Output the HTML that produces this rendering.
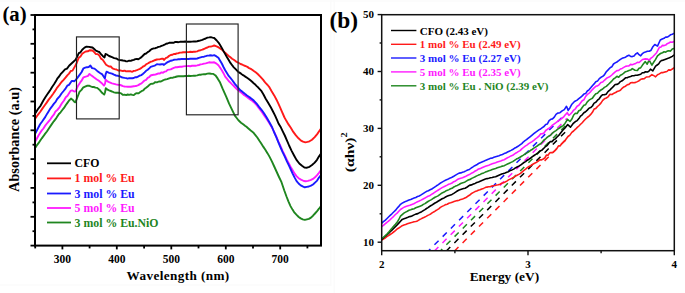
<!DOCTYPE html>
<html><head><meta charset="utf-8"><style>
html,body{margin:0;padding:0;background:#fff;}
body{width:685px;height:293px;overflow:hidden;}
svg{display:block;}
.t{font-family:"Liberation Serif",serif;font-weight:bold;}
</style></head><body>
<svg width="685" height="293" viewBox="0 0 685 293">
<rect x="0" y="0" width="685" height="1.8" fill="#fcfcfc"/>
<rect x="330.2" y="0" width="1.2" height="286" fill="#fbfbfb"/>
<rect x="0" y="284.4" width="331" height="1.2" fill="#fbfbfb"/>
<rect x="333.6" y="0" width="1.2" height="293" fill="#fbfbfb"/>
<clipPath id="ca"><rect x="35" y="15" width="286" height="230.6"/></clipPath>
<clipPath id="cb"><rect x="381.7" y="14.7" width="292.6" height="236"/></clipPath>
<g clip-path="url(#ca)">
<polyline points="35.5,147.5 37.0,145.1 38.5,143.2 40.1,140.7 41.8,138.3 43.4,136.2 45.0,133.9 46.9,131.5 48.7,128.7 51.3,124.9 53.8,121.3 56.3,118.1 58.9,114.0 60.6,112.3 62.3,110.0 64.0,107.9 65.7,105.2 67.4,102.9 69.1,100.5 71.0,98.6 72.5,99.7 74.0,101.4 75.1,102.3 76.2,100.4 77.7,96.5 79.5,91.9 81.5,89.9 83.0,87.7 84.5,86.9 86.9,85.8 89.5,85.8 92.1,87.0 93.8,87.0 95.5,87.6 97.2,87.9 100.0,90.3 102.3,93.1 104.2,94.6 105.0,92.5 105.8,88.2 107.5,89.7 109.1,90.4 112.0,91.5 114.0,92.4 116.0,92.8 118.0,92.7 120.0,93.0 121.5,93.7 123.0,94.9 124.6,94.7 126.1,95.1 127.7,94.5 129.2,94.9 130.8,94.4 132.3,94.9 133.8,95.1 135.4,93.7 136.9,93.2 138.4,93.4 139.9,92.3 141.5,91.2 143.1,90.5 144.6,88.8 146.1,87.8 147.7,86.5 149.2,85.1 150.7,83.9 152.2,83.8 153.8,83.3 155.3,82.1 156.9,82.4 158.9,81.5 161.0,81.5 163.0,80.4 165.0,79.5 167.1,79.1 169.2,78.3 170.7,77.8 172.2,77.9 173.8,77.3 175.3,77.0 176.9,76.5 178.4,76.2 180.0,76.3 181.7,76.1 183.5,76.2 185.2,76.0 186.9,76.1 188.6,75.8 190.3,76.0 192.1,75.9 193.8,75.8 195.5,75.7 197.2,75.3 198.9,74.8 200.6,74.7 202.3,74.4 204.0,74.3 205.7,74.2 207.4,73.6 209.1,73.5 211.2,73.8 213.4,73.9 215.5,75.4 217.6,78.4 220.1,82.6 222.5,88.4 224.4,92.6 226.4,97.1 229.1,103.7 231.5,108.6 233.2,112.1 235.0,115.9 236.7,118.0 238.4,120.3 241.0,122.7 243.5,124.5 245.0,125.7 246.5,126.8 248.1,128.2 249.6,129.5 251.4,131.1 253.2,132.4 255.2,134.9 257.3,137.5 259.4,140.8 261.4,143.7 263.4,146.9 265.5,150.0 267.6,153.4 269.6,156.9 272.0,161.6 274.0,166.0 276.5,171.5 279.0,177.0 281.5,182.2 284.3,190.5 286.5,196.5 288.4,201.3 290.5,206.1 292.5,209.6 294.5,212.7 296.6,214.9 298.7,217.0 300.7,218.4 302.7,219.4 304.8,219.9 306.9,219.4 308.9,218.9 311.0,217.6 313.0,215.7 315.0,213.5 317.1,211.1 319.0,208.7 321.0,206.0" fill="none" stroke="#1f861f" stroke-width="1.9" stroke-linejoin="round" stroke-linecap="round" />
<polyline points="35.5,141.0 37.0,138.3 38.5,135.5 40.1,132.9 41.8,130.4 43.4,128.5 45.0,125.9 46.9,123.5 48.7,121.3 50.4,119.3 52.0,116.9 53.8,114.7 55.5,111.4 57.6,109.7 59.7,107.1 61.9,103.3 64.0,100.5 65.8,97.2 67.5,95.7 69.2,93.1 70.8,90.6 72.5,90.5 74.2,91.5 75.5,91.3 76.8,88.4 78.4,85.2 80.2,82.4 81.8,80.3 83.5,77.3 85.0,76.8 86.5,76.4 88.0,75.9 89.5,73.9 91.5,75.6 93.8,77.3 96.5,79.2 98.9,80.8 101.5,82.9 104.0,85.6 105.0,83.8 105.7,79.6 107.5,81.4 109.1,82.2 112.0,83.3 114.0,83.8 116.0,84.4 118.0,84.8 120.0,84.9 121.5,85.5 123.0,86.1 124.6,86.5 126.1,86.6 127.7,86.8 129.2,86.7 130.8,86.8 132.3,86.5 133.8,86.2 135.4,86.0 136.9,85.7 138.4,85.1 139.9,84.1 141.5,83.4 143.1,81.8 144.6,80.5 146.1,79.8 147.7,77.9 149.2,77.2 150.7,75.5 152.2,75.0 153.8,74.8 155.3,74.6 156.9,74.0 158.4,73.4 159.9,73.5 161.5,72.4 163.0,72.7 164.6,71.6 166.1,71.4 167.6,69.9 169.2,69.6 170.7,69.4 172.2,68.6 173.8,67.9 175.3,67.3 176.9,67.3 178.4,67.0 180.0,66.7 181.7,66.7 183.5,66.4 185.2,66.1 186.9,66.1 188.6,66.0 190.3,66.2 192.1,65.8 193.8,65.8 195.5,65.7 197.2,65.4 198.9,65.0 200.6,64.4 202.3,64.1 204.0,63.7 205.7,63.3 207.4,62.8 209.1,62.3 210.8,62.5 212.5,62.5 214.2,62.3 216.5,63.6 218.4,65.3 220.0,67.5 221.8,70.3 223.5,73.2 225.2,76.6 226.9,78.7 228.7,81.0 230.4,82.7 232.1,84.4 233.8,86.0 235.5,87.8 237.0,89.2 238.5,90.5 240.1,91.8 241.8,93.1 243.5,94.6 245.2,95.7 247.0,97.1 248.8,98.5 250.5,99.6 252.2,100.8 253.8,102.2 256.4,104.8 258.9,108.2 261.5,111.5 264.0,115.2 266.5,118.8 269.1,122.7 272.0,127.6 274.0,131.7 276.3,136.7 278.4,141.6 280.5,146.2 282.6,150.8 284.8,155.3 286.9,159.9 289.1,163.9 291.0,167.6 292.8,170.5 294.5,173.4 296.5,176.1 298.6,178.2 301.0,179.6 303.8,181.0 305.8,181.2 307.9,180.9 310.5,180.1 313.0,178.9 315.0,177.3 317.1,175.1 319.0,172.8 321.0,170.0" fill="none" stroke="#ff1aff" stroke-width="1.9" stroke-linejoin="round" stroke-linecap="round" />
<polyline points="35.5,133.0 38.0,128.3 40.1,124.3 41.8,122.0 43.5,119.5 45.2,117.1 47.0,113.9 48.7,111.2 50.5,108.3 52.2,106.1 54.0,103.6 55.6,101.9 57.2,99.0 59.4,96.7 61.5,93.5 63.6,91.0 65.7,88.3 67.3,85.7 69.0,84.9 71.7,81.0 73.0,80.9 74.2,81.3 75.5,80.1 77.0,78.4 79.4,75.1 81.5,72.2 83.5,68.3 85.2,67.7 87.0,67.2 88.7,67.0 90.4,65.6 92.1,68.1 94.5,68.6 97.2,70.9 100.0,73.0 102.3,74.4 104.9,78.4 105.6,74.4 106.6,71.7 109.1,72.8 112.0,73.6 114.0,74.7 116.0,75.5 118.0,75.8 120.0,76.4 121.5,77.3 123.0,77.6 124.6,77.9 126.1,78.1 127.7,78.6 129.2,78.2 130.8,78.2 132.3,78.2 133.8,78.0 135.4,77.2 136.9,77.2 138.4,76.4 139.9,75.5 141.5,75.1 143.1,73.8 144.6,72.4 146.1,70.8 147.7,69.8 149.2,68.4 150.7,66.8 152.2,66.3 153.8,65.9 155.3,65.3 156.9,64.3 158.4,64.4 159.9,64.5 161.5,64.2 163.0,64.1 164.0,64.9 166.0,63.2 167.6,62.1 169.2,61.5 170.7,60.7 172.2,60.5 173.8,59.8 175.3,59.6 176.9,59.6 178.4,59.1 180.0,59.2 181.7,58.9 183.5,59.0 185.2,58.9 186.9,59.0 188.6,59.0 190.3,58.8 192.1,58.8 193.8,58.7 195.5,58.8 197.2,58.5 198.9,57.9 200.6,57.4 202.3,56.9 204.0,56.7 205.7,56.2 207.4,55.6 209.1,55.5 210.8,55.3 212.5,55.6 214.2,55.2 216.5,56.4 218.4,57.8 220.0,60.4 221.8,63.5 223.5,67.0 225.2,70.2 226.9,72.9 228.7,75.9 230.4,77.9 232.1,80.0 233.8,82.4 235.5,84.7 237.2,86.7 238.9,88.6 240.1,90.1 241.8,91.3 243.5,92.7 245.2,94.1 247.0,95.5 248.8,96.7 250.5,97.9 252.2,99.3 253.8,100.6 256.4,103.3 258.9,106.6 261.5,109.8 264.0,113.3 266.5,117.2 269.1,121.8 272.0,127.0 274.0,132.0 276.3,137.1 278.4,142.3 280.5,147.3 282.6,152.1 284.8,156.7 286.9,161.4 289.1,165.9 290.8,169.5 292.5,173.3 294.5,177.4 296.6,181.1 298.6,183.5 300.7,185.4 302.7,186.4 304.8,187.3 306.8,186.9 308.9,186.5 311.0,185.6 313.0,184.5 315.0,182.6 317.1,180.6 319.0,177.6 321.0,175.0" fill="none" stroke="#1a1aff" stroke-width="1.9" stroke-linejoin="round" stroke-linecap="round" />
<polyline points="35.5,118.3 37.0,116.0 38.6,113.9 40.1,112.0 42.2,108.9 44.4,105.8 46.5,102.9 48.7,99.6 50.9,96.9 53.0,94.0 55.1,90.9 57.2,87.6 59.4,84.9 61.5,82.0 63.6,79.8 65.7,77.4 67.3,75.3 69.0,73.6 70.8,71.0 72.5,70.6 74.5,67.1 76.5,63.5 78.8,57.7 80.5,56.4 82.2,53.8 84.0,52.5 85.7,51.5 87.8,51.3 89.9,50.2 92.5,50.5 94.2,52.2 95.9,54.1 97.6,54.1 99.3,55.5 101.0,58.6 102.7,59.7 104.4,62.2 106.1,64.7 109.0,66.5 110.8,66.5 112.5,68.3 114.5,69.1 116.4,69.5 118.2,70.5 120.0,70.3 121.5,70.7 123.0,71.0 124.6,70.6 126.1,71.4 127.7,71.1 129.2,71.3 130.8,71.3 132.3,71.8 133.8,70.9 135.4,70.7 136.9,70.2 138.4,69.5 139.9,68.8 141.5,67.9 143.1,66.5 144.6,65.9 146.1,64.3 147.7,63.5 149.2,62.6 150.7,61.7 152.2,61.4 153.8,60.6 155.3,60.0 156.9,59.5 158.4,59.4 159.9,59.2 161.5,58.8 163.0,58.7 164.0,59.9 166.0,57.9 167.6,57.3 169.2,55.8 170.7,55.0 172.2,54.8 173.8,54.0 175.3,54.0 176.9,53.4 178.4,53.2 180.0,52.6 181.7,52.5 183.5,52.3 185.2,52.3 186.9,52.1 188.6,52.1 190.3,51.8 192.1,52.0 193.8,51.7 195.5,51.7 197.2,51.3 198.9,50.5 200.6,50.2 202.3,49.7 204.0,49.0 205.7,48.1 207.4,47.5 209.1,46.6 210.8,46.5 212.5,46.1 214.2,45.5 215.9,46.2 217.7,46.9 219.4,48.0 221.1,49.1 223.5,51.1 225.2,52.8 227.0,54.4 228.7,55.9 230.4,57.3 232.1,58.8 233.8,59.8 235.5,61.1 237.2,62.2 238.9,63.0 240.6,64.0 242.3,64.7 244.0,65.5 245.7,66.2 247.4,66.9 249.1,68.1 250.8,68.9 252.5,70.0 254.2,71.3 256.0,72.6 257.7,74.0 260.5,76.8 263.0,79.6 264.5,81.6 266.0,83.4 267.6,85.0 269.1,86.8 271.5,91.0 274.2,95.4 276.5,99.7 278.5,103.9 280.3,107.8 281.9,111.6 284.5,117.5 286.5,121.1 288.5,124.4 290.8,127.8 293.3,131.9 295.9,135.4 298.5,138.3 301.0,140.6 303.0,141.7 305.3,142.4 307.5,141.9 309.5,141.3 312.0,139.7 314.7,137.1 317.2,134.1 319.8,130.3 321.0,128.5" fill="none" stroke="#ff1a1a" stroke-width="1.9" stroke-linejoin="round" stroke-linecap="round" />
<polyline points="35.5,113.0 38.0,109.0 40.5,105.8 42.0,103.0 43.5,100.3 45.5,97.0 47.5,94.0 49.0,91.9 50.6,89.5 52.1,87.0 54.0,84.3 56.0,81.1 57.5,78.3 59.1,76.5 60.6,74.2 62.8,71.8 65.0,69.3 67.0,68.6 69.1,65.8 71.2,63.8 73.4,61.8 75.4,59.9 77.1,56.9 78.8,53.2 80.5,52.3 82.2,49.7 84.5,47.6 86.5,46.6 89.1,46.9 90.8,47.2 92.5,47.5 94.2,49.0 95.9,50.6 97.6,51.4 99.3,52.0 101.0,54.1 102.7,55.9 104.5,57.4 105.5,54.0 106.5,54.3 109.1,56.0 112.0,57.2 114.2,58.1 116.4,58.5 118.2,59.6 120.0,60.1 121.5,60.2 123.0,60.5 124.6,60.7 126.1,61.4 127.7,61.2 129.2,60.7 130.8,60.9 132.3,60.2 133.8,59.9 135.4,59.1 136.9,59.0 138.4,59.2 139.9,58.2 141.5,57.1 143.1,55.5 144.6,54.0 146.1,53.5 147.7,52.1 149.2,51.2 150.7,49.8 152.2,48.9 153.8,48.4 155.3,48.2 156.9,47.6 158.4,46.9 159.9,46.6 161.5,45.9 163.0,45.4 164.6,44.7 166.1,43.8 167.6,43.5 169.2,42.8 170.7,42.8 172.2,42.7 173.8,42.8 175.3,41.9 176.9,42.0 178.4,42.2 180.0,41.8 181.7,41.6 183.5,41.7 185.2,41.5 186.9,41.7 188.6,41.7 190.3,41.7 192.1,41.6 193.8,41.4 195.5,41.5 197.2,41.2 199.0,40.8 200.7,40.3 202.3,39.8 204.0,39.1 205.7,38.5 207.4,37.6 209.1,37.4 210.8,37.1 212.5,37.6 214.2,38.0 216.7,40.5 218.5,42.6 220.1,45.1 221.8,47.9 223.5,51.1 225.2,54.1 227.0,57.2 228.7,60.1 230.4,62.9 232.1,65.2 233.8,67.3 235.9,69.4 238.0,71.7 239.5,72.6 241.0,73.6 242.5,74.9 244.0,75.7 245.7,76.9 247.4,78.0 249.1,79.2 250.7,80.5 252.4,82.0 254.0,83.6 255.5,84.8 257.0,86.4 258.5,87.8 261.1,90.6 263.5,94.5 265.7,98.7 268.0,102.5 270.8,107.3 273.0,111.5 275.1,115.6 277.1,120.1 278.5,123.5 280.5,126.7 282.5,130.9 284.8,135.5 287.0,140.6 289.1,145.5 291.5,150.6 294.2,155.7 296.5,159.9 299.3,163.5 302.0,165.8 304.4,167.5 307.0,167.7 309.5,166.8 312.0,165.0 314.7,162.6 317.0,159.8 318.9,156.6 321.0,153.5" fill="none" stroke="#000000" stroke-width="1.9" stroke-linejoin="round" stroke-linecap="round" />
</g>
<rect x="76.5" y="36.9" width="42.7" height="82.0" fill="none" stroke="#222" stroke-width="1.15"/>
<rect x="186.4" y="24.0" width="51.7" height="90.8" fill="none" stroke="#222" stroke-width="1.15"/>
<rect x="35" y="15" width="286" height="230.6" fill="none" stroke="#000" stroke-width="2"/>
<line x1="30.5" y1="15.0" x2="35" y2="15.0" stroke="#000" stroke-width="1.8"/>
<line x1="32.5" y1="29.4" x2="35" y2="29.4" stroke="#000" stroke-width="1.8"/>
<line x1="30.5" y1="43.8" x2="35" y2="43.8" stroke="#000" stroke-width="1.8"/>
<line x1="32.5" y1="58.2" x2="35" y2="58.2" stroke="#000" stroke-width="1.8"/>
<line x1="30.5" y1="72.7" x2="35" y2="72.7" stroke="#000" stroke-width="1.8"/>
<line x1="32.5" y1="87.1" x2="35" y2="87.1" stroke="#000" stroke-width="1.8"/>
<line x1="30.5" y1="101.5" x2="35" y2="101.5" stroke="#000" stroke-width="1.8"/>
<line x1="32.5" y1="115.9" x2="35" y2="115.9" stroke="#000" stroke-width="1.8"/>
<line x1="30.5" y1="130.3" x2="35" y2="130.3" stroke="#000" stroke-width="1.8"/>
<line x1="32.5" y1="144.7" x2="35" y2="144.7" stroke="#000" stroke-width="1.8"/>
<line x1="30.5" y1="159.1" x2="35" y2="159.1" stroke="#000" stroke-width="1.8"/>
<line x1="32.5" y1="173.5" x2="35" y2="173.5" stroke="#000" stroke-width="1.8"/>
<line x1="30.5" y1="187.9" x2="35" y2="187.9" stroke="#000" stroke-width="1.8"/>
<line x1="32.5" y1="202.4" x2="35" y2="202.4" stroke="#000" stroke-width="1.8"/>
<line x1="30.5" y1="216.8" x2="35" y2="216.8" stroke="#000" stroke-width="1.8"/>
<line x1="32.5" y1="231.2" x2="35" y2="231.2" stroke="#000" stroke-width="1.8"/>
<line x1="30.5" y1="245.6" x2="35" y2="245.6" stroke="#000" stroke-width="1.8"/>
<line x1="35.2" y1="245.6" x2="35.2" y2="248.4" stroke="#000" stroke-width="1.8"/>
<line x1="62.4" y1="245.6" x2="62.4" y2="249.4" stroke="#000" stroke-width="1.8"/>
<text x="62.4" y="262.8" class="t" font-size="11.5" text-anchor="middle">300</text>
<line x1="89.6" y1="245.6" x2="89.6" y2="248.4" stroke="#000" stroke-width="1.8"/>
<line x1="116.8" y1="245.6" x2="116.8" y2="249.4" stroke="#000" stroke-width="1.8"/>
<text x="116.8" y="262.8" class="t" font-size="11.5" text-anchor="middle">400</text>
<line x1="144.1" y1="245.6" x2="144.1" y2="248.4" stroke="#000" stroke-width="1.8"/>
<line x1="171.3" y1="245.6" x2="171.3" y2="249.4" stroke="#000" stroke-width="1.8"/>
<text x="171.3" y="262.8" class="t" font-size="11.5" text-anchor="middle">500</text>
<line x1="198.5" y1="245.6" x2="198.5" y2="248.4" stroke="#000" stroke-width="1.8"/>
<line x1="225.8" y1="245.6" x2="225.8" y2="249.4" stroke="#000" stroke-width="1.8"/>
<text x="225.8" y="262.8" class="t" font-size="11.5" text-anchor="middle">600</text>
<line x1="253.0" y1="245.6" x2="253.0" y2="248.4" stroke="#000" stroke-width="1.8"/>
<line x1="280.2" y1="245.6" x2="280.2" y2="249.4" stroke="#000" stroke-width="1.8"/>
<text x="280.2" y="262.8" class="t" font-size="11.5" text-anchor="middle">700</text>
<line x1="307.4" y1="245.6" x2="307.4" y2="248.4" stroke="#000" stroke-width="1.8"/>
<text x="178.1" y="279.6" class="t" font-size="13.2" text-anchor="middle" letter-spacing="0.4">Wavelength (nm)</text>
<text x="19.3" y="139.5" class="t" font-size="14.3" text-anchor="middle" transform="rotate(-90 19.3 139.5)">Absorbance (a.u)</text>
<text x="2.4" y="20.8" class="t" font-size="20.8">(a)</text>
<line x1="47" y1="163.3" x2="71" y2="163.3" stroke="#000000" stroke-width="1.8"/>
<text x="74.6" y="167.3" class="t" font-size="11.8" fill="#000000">CFO</text>
<line x1="47" y1="178.4" x2="71" y2="178.4" stroke="#ff1a1a" stroke-width="1.8"/>
<text x="74.6" y="182.4" class="t" font-size="11.8" fill="#ff1a1a">1 mol % Eu</text>
<line x1="47" y1="193.5" x2="71" y2="193.5" stroke="#1a1aff" stroke-width="1.8"/>
<text x="74.6" y="197.5" class="t" font-size="11.8" fill="#1a1aff">3 mol % Eu</text>
<line x1="47" y1="208" x2="71" y2="208" stroke="#ff1aff" stroke-width="1.8"/>
<text x="74.6" y="212" class="t" font-size="11.8" fill="#ff1aff">5 mol % Eu</text>
<line x1="47" y1="222.5" x2="71" y2="222.5" stroke="#1f861f" stroke-width="1.8"/>
<text x="74.6" y="226.5" class="t" font-size="11.8" fill="#1f861f">3 mol % Eu.NiO</text>
<g clip-path="url(#cb)">
<line x1="428.6" y1="250.7" x2="565" y2="114.3" stroke="#1a1aff" stroke-width="1.5" stroke-dasharray="5.8 5.8" stroke-dashoffset="3.3"/>
<line x1="434.7" y1="250.7" x2="567" y2="118.4" stroke="#ff1aff" stroke-width="1.5" stroke-dasharray="5.8 5.8" stroke-dashoffset="0.6"/>
<line x1="440.5" y1="250.7" x2="566" y2="125.2" stroke="#1f861f" stroke-width="1.5" stroke-dasharray="5.8 5.8" stroke-dashoffset="3.3"/>
<line x1="446.6" y1="250.7" x2="566" y2="131.3" stroke="#000000" stroke-width="1.5" stroke-dasharray="5.8 5.8" stroke-dashoffset="0.6"/>
<line x1="454.8" y1="250.7" x2="566" y2="139.5" stroke="#ff1a1a" stroke-width="1.5" stroke-dasharray="5.8 5.8" stroke-dashoffset="0.6"/>
<polyline points="381.7,240.2 383.4,239.0 385.1,238.0 386.8,236.7 388.5,235.6 390.2,234.5 391.9,233.3 393.6,232.0 395.4,230.6 397.1,229.0 398.8,228.0 400.5,226.9 402.2,225.7 403.9,225.1 405.6,224.6 407.3,223.7 409.0,223.2 410.7,222.7 412.4,222.3 414.1,221.8 415.8,221.5 417.5,220.9 419.2,219.8 421.0,218.9 422.7,218.0 424.4,217.3 426.1,216.4 427.8,215.4 429.5,214.6 431.0,213.7 432.5,212.6 434.0,211.8 435.5,210.8 437.0,209.9 438.7,208.8 440.4,207.4 442.1,206.4 443.8,205.6 445.5,204.6 447.2,204.2 448.9,203.2 450.6,202.8 452.3,202.2 454.0,201.6 455.7,201.1 457.4,200.6 459.1,200.2 460.8,199.4 462.6,198.9 464.3,198.3 466.0,197.5 467.7,196.3 469.4,195.3 471.1,193.8 473.1,192.6 475.0,191.6 476.7,191.0 478.3,190.2 480.0,189.7 481.8,188.9 483.5,188.4 485.2,187.6 487.0,187.1 488.6,186.7 490.2,186.7 491.8,186.1 493.4,185.8 495.0,185.5 496.7,185.0 498.3,184.7 500.0,184.2 501.7,183.3 503.4,182.7 505.1,182.0 506.8,181.1 508.5,179.9 510.2,179.1 512.0,178.3 513.7,177.4 515.4,176.1 517.1,175.2 518.8,174.4 520.5,173.4 522.2,171.8 523.9,170.4 525.6,169.1 527.3,167.7 529.0,166.5 530.7,165.7 532.4,164.5 534.1,163.5 536.1,162.5 538.0,161.4 540.0,159.7 541.6,159.9 543.2,159.0 544.8,158.0 546.4,155.1 548.0,155.2 549.5,153.1 551.0,152.5 552.5,152.6 554.0,151.4 555.5,150.1 557.0,148.2 558.5,145.9 560.0,145.9 561.7,143.8 563.3,142.2 565.0,140.7 566.5,138.4 568.0,136.5 569.9,135.1 571.8,132.4 573.6,131.0 575.5,129.2 577.3,127.4 578.9,126.0 580.6,124.3 582.2,122.7 583.9,120.8 585.6,119.0 587.3,117.5 589.0,116.2 590.7,114.4 592.4,112.3 594.1,109.1 595.8,108.4 597.5,106.5 599.2,105.0 600.9,103.1 602.7,100.4 604.4,98.8 606.3,98.0 608.1,96.8 610.0,94.2 612.0,94.5 614.0,93.2 615.6,92.6 617.1,91.5 618.7,90.9 620.4,90.2 622.1,88.3 623.8,86.9 625.5,86.2 627.2,84.8 628.9,84.4 630.6,82.8 632.3,82.5 634.0,82.7 635.7,82.4 637.4,81.6 639.1,80.7 640.8,79.3 642.6,78.9 644.3,78.7 646.3,77.0 649.1,76.8 651.9,74.6 653.8,75.6 655.6,76.8 657.5,74.8 659.4,73.9 661.3,72.6 663.1,72.6 665.0,71.9 666.9,71.5 668.7,69.9 670.6,70.1 672.3,69.0 674.0,67.8" fill="none" stroke="#ff1a1a" stroke-width="1.6" stroke-linejoin="round" stroke-linecap="round" />
<polyline points="381.7,239.4 383.4,238.0 385.1,236.3 386.8,234.9 388.5,233.4 390.2,231.7 391.9,230.1 393.6,228.4 395.4,226.6 397.1,224.9 398.8,223.1 400.5,221.3 402.2,219.4 403.9,218.8 405.6,218.2 407.3,217.6 409.0,216.8 410.7,216.4 412.4,215.7 414.1,214.9 415.8,214.1 417.9,213.6 420.0,212.4 421.7,211.7 423.3,210.6 425.0,209.6 426.5,208.5 428.0,207.6 429.5,206.5 431.5,205.3 433.5,204.0 435.0,203.0 436.5,202.2 438.0,201.3 440.1,200.0 442.1,198.8 444.1,197.9 446.0,196.7 447.5,196.0 449.0,195.5 450.5,195.0 452.0,194.4 453.8,193.4 455.6,192.2 457.3,191.0 459.1,190.0 460.6,189.5 462.1,189.0 463.6,188.6 465.1,188.2 467.2,187.0 469.4,185.4 471.4,184.9 473.4,184.0 475.1,183.4 476.8,182.5 478.5,181.9 480.2,181.2 481.9,180.5 483.7,179.8 485.4,179.1 487.1,178.6 488.8,178.2 490.5,177.7 492.2,177.5 493.9,177.0 495.6,176.8 497.8,175.7 500.0,174.7 501.7,174.0 503.4,173.5 505.1,172.9 506.8,172.2 508.5,171.7 510.2,170.6 512.0,169.9 513.7,169.1 515.4,167.9 517.1,167.0 518.8,166.1 520.5,165.1 522.2,163.8 523.9,162.5 525.6,161.6 527.3,160.2 529.0,159.2 530.7,158.0 532.4,156.7 534.1,155.5 536.1,154.2 538.0,152.9 540.0,150.9 541.7,150.3 543.4,148.7 545.2,146.8 546.9,145.7 548.6,143.6 550.3,141.6 552.0,141.6 553.6,139.9 555.3,138.9 557.0,137.0 559.0,135.1 561.0,132.5 563.0,129.9 565.0,128.0 567.7,124.6 570.5,127.1 573.0,123.7 575.1,121.8 577.2,120.6 578.9,118.6 580.5,116.1 582.2,114.8 583.9,112.8 585.6,111.8 587.3,110.1 589.0,108.2 590.7,107.6 592.4,106.0 594.1,103.1 595.8,102.3 597.5,100.2 599.2,98.8 601.0,96.2 602.7,94.7 604.4,94.6 606.1,94.2 608.0,91.6 610.0,89.8 611.7,88.2 613.5,86.4 615.2,84.5 616.9,84.4 618.7,83.6 620.4,81.6 622.1,80.8 623.8,79.4 625.5,77.8 627.2,77.7 628.9,76.9 630.6,76.4 632.2,75.7 633.9,75.7 635.5,75.3 637.2,75.2 639.0,74.7 640.7,74.3 642.3,72.7 643.9,72.7 645.5,71.7 647.5,72.0 649.0,71.1 650.5,69.2 652.8,70.9 655.6,66.2 657.2,65.0 658.7,63.9 660.3,61.4 661.9,60.4 663.4,60.1 665.0,59.4 666.9,58.7 668.8,58.1 670.5,57.3 672.3,56.4 674.0,55.0" fill="none" stroke="#000000" stroke-width="1.6" stroke-linejoin="round" stroke-linecap="round" />
<polyline points="381.7,238.5 383.4,237.3 385.1,235.9 386.8,234.2 388.5,232.4 390.2,230.2 391.9,228.3 393.6,226.3 395.4,224.3 397.1,222.3 398.8,219.5 400.5,216.2 402.2,214.6 403.9,213.1 405.6,212.1 407.3,211.2 409.0,210.2 410.7,209.8 412.4,209.1 414.1,208.7 415.8,207.8 417.9,207.0 420.0,206.2 421.7,205.6 423.3,204.4 425.0,203.6 426.5,202.5 428.0,201.5 429.5,200.6 431.5,199.6 433.5,198.2 435.0,197.3 436.5,196.6 438.0,195.9 440.1,194.3 442.1,192.9 444.1,192.1 446.0,190.8 447.5,190.3 449.0,189.6 450.5,188.8 452.0,188.3 453.8,187.0 455.6,186.1 457.3,185.4 459.1,184.5 460.6,183.5 462.1,183.0 463.6,182.5 465.1,181.9 467.2,180.6 469.4,179.6 470.0,179.5 471.7,178.4 473.4,177.6 475.1,176.8 476.8,175.9 478.5,175.1 480.2,174.4 481.9,173.5 483.7,172.9 485.4,172.1 487.1,171.4 488.8,170.7 490.5,170.2 492.2,169.5 493.9,168.9 495.6,168.4 497.3,167.7 499.0,167.2 500.7,166.8 502.4,166.1 504.1,165.8 505.8,164.9 507.5,164.0 509.3,163.2 511.0,162.4 512.7,161.6 514.5,160.4 516.4,159.1 518.2,158.3 520.0,157.2 521.5,156.3 523.0,155.4 524.5,154.3 526.0,153.3 527.5,152.6 529.0,151.6 530.6,150.3 532.1,149.5 533.8,148.2 535.5,147.1 537.2,146.0 538.9,144.7 540.6,143.7 542.3,142.0 544.0,140.0 545.7,138.8 547.4,137.1 549.1,136.0 550.8,135.1 552.5,133.1 554.3,131.7 556.0,130.6 557.7,129.2 559.5,128.0 561.4,126.5 563.2,125.6 565.0,123.4 567.5,119.3 570.0,121.5 571.9,119.0 573.7,115.0 575.4,113.3 577.1,113.5 578.8,110.8 580.5,110.0 582.2,107.5 583.9,105.3 585.6,104.7 587.3,101.9 589.0,100.2 590.7,99.1 592.4,98.3 594.1,95.8 595.8,93.8 597.5,93.3 599.2,91.3 600.9,90.0 602.7,89.0 604.4,87.4 606.3,86.4 608.1,84.7 610.0,82.8 611.7,81.2 613.5,79.0 615.2,77.8 616.9,76.3 618.7,77.3 620.4,75.2 622.1,74.5 623.8,73.1 625.5,71.7 627.2,71.3 628.9,70.6 630.6,70.1 632.3,68.6 635.0,70.2 637.4,70.5 639.0,68.2 640.6,67.9 642.5,65.1 645.3,61.6 647.2,64.2 649.1,60.1 651.9,65.2 653.8,62.0 655.6,59.4 657.5,55.9 659.4,54.3 661.0,53.3 662.5,52.7 664.1,51.7 665.7,52.2 667.2,51.1 668.8,50.8 670.5,51.1 672.3,49.0 674.0,48.5" fill="none" stroke="#1f861f" stroke-width="1.6" stroke-linejoin="round" stroke-linecap="round" />
<polyline points="381.7,226.6 383.4,225.4 385.1,223.8 386.8,222.5 388.5,221.1 390.2,219.6 391.9,218.0 393.7,216.3 395.4,214.5 397.1,213.1 398.8,211.3 400.5,209.5 402.6,208.1 404.7,206.9 406.4,206.3 408.2,205.7 409.9,205.3 411.9,204.4 413.8,203.7 415.8,202.6 417.5,201.8 419.2,201.0 421.0,200.1 422.7,199.2 425.0,198.0 426.5,197.1 428.0,196.2 429.5,195.8 431.5,194.4 433.5,193.2 435.0,192.1 436.5,191.1 438.0,190.2 440.1,188.9 442.1,187.6 443.8,186.8 445.4,186.0 447.1,185.1 448.7,184.2 450.4,183.7 452.0,183.0 453.8,181.7 455.6,180.9 457.3,179.6 459.1,178.8 460.8,178.2 462.5,177.8 464.2,177.0 465.9,176.2 467.7,175.3 469.4,174.6 472.0,172.9 473.6,172.2 475.2,171.0 476.9,170.2 478.5,169.0 480.2,168.6 481.9,167.7 483.7,166.9 485.4,166.3 487.1,165.7 488.8,165.2 490.5,164.4 492.2,163.8 493.9,163.2 495.6,162.8 497.3,162.1 499.0,161.5 500.7,161.0 502.4,160.3 504.1,159.7 505.8,158.7 507.5,157.8 509.3,156.9 511.0,155.9 512.7,155.3 514.6,153.9 516.4,152.8 518.2,151.6 520.1,150.6 521.8,148.9 523.5,147.5 525.2,146.1 526.9,145.1 528.7,143.7 530.4,142.6 532.1,141.6 533.8,140.4 535.5,138.8 537.2,137.7 538.9,136.2 540.6,133.9 542.3,133.7 544.0,133.0 545.7,130.5 547.4,129.3 549.1,128.3 550.8,127.0 552.5,125.1 554.3,123.8 556.0,122.6 557.7,121.3 560.0,119.9 561.7,118.5 563.4,117.2 565.1,115.0 567.2,112.7 568.9,115.4 570.5,114.0 572.1,112.2 573.7,110.1 575.4,108.8 577.1,106.2 578.8,105.3 580.5,103.0 582.2,100.7 583.9,99.8 585.6,96.5 587.3,94.4 589.0,93.3 590.7,91.6 592.4,89.6 594.1,87.9 595.8,86.3 597.5,85.9 599.2,84.6 600.9,82.5 602.7,82.0 604.4,80.3 607.0,77.9 608.5,77.3 610.1,76.5 611.8,75.0 613.5,73.4 615.2,71.8 616.9,70.6 618.7,70.4 620.4,69.0 622.1,68.4 623.8,67.4 625.5,66.4 627.2,66.0 628.9,65.9 630.6,64.4 632.3,64.7 634.0,64.1 635.7,63.4 637.4,62.3 639.1,62.5 640.8,61.0 642.5,59.5 645.3,58.9 647.7,59.1 649.1,60.1 651.0,58.1 652.8,56.8 654.7,54.8 656.6,52.7 659.4,47.4 661.0,47.0 662.5,45.4 664.1,45.6 665.7,45.1 667.2,43.7 668.8,43.0 670.5,42.0 672.3,42.3 674.0,41.5" fill="none" stroke="#ff1aff" stroke-width="1.6" stroke-linejoin="round" stroke-linecap="round" />
<polyline points="381.7,223.2 383.4,221.7 385.1,220.4 386.8,218.7 388.5,217.0 390.2,215.4 391.9,213.8 393.7,212.0 395.4,210.4 397.1,208.3 398.8,206.4 400.5,204.3 402.2,203.1 403.9,202.2 405.6,201.4 407.3,200.8 409.0,200.1 410.7,199.5 412.4,198.7 414.1,198.1 415.8,197.5 417.5,196.5 419.2,196.0 421.1,194.9 423.1,193.6 425.0,192.4 426.7,191.3 428.4,190.7 430.1,189.8 431.8,189.0 433.5,187.8 435.0,186.8 436.5,185.8 438.0,184.9 440.1,183.3 442.1,182.1 443.8,181.1 445.4,180.3 447.1,179.6 448.7,178.8 450.4,177.9 452.0,177.2 453.8,176.2 455.6,175.1 457.3,174.1 459.1,173.1 460.8,172.9 462.5,172.2 464.2,171.7 465.9,170.9 467.7,170.0 469.4,169.5 471.2,168.0 473.0,166.9 474.8,165.7 476.7,164.8 478.5,163.5 480.2,162.7 481.9,162.0 483.7,161.3 485.4,160.4 487.1,159.7 488.8,159.1 490.5,158.3 492.2,158.1 493.9,157.2 495.6,156.7 497.3,156.2 499.0,155.7 500.7,155.1 502.4,154.5 504.1,153.6 505.8,153.1 507.5,152.0 509.3,151.2 511.0,150.4 512.7,149.5 514.4,148.3 516.0,147.5 518.0,146.3 520.0,144.9 521.8,143.6 523.5,141.8 525.0,140.7 526.5,139.7 528.0,138.4 530.0,136.8 532.1,135.1 533.8,133.7 535.5,132.3 537.2,131.1 538.9,129.9 540.6,129.0 542.3,127.6 544.0,126.5 545.7,124.4 547.4,123.9 549.1,120.6 550.8,119.3 552.5,118.9 554.3,117.1 556.0,114.4 557.7,113.1 560.0,112.7 562.1,110.9 564.3,109.6 566.5,106.3 568.2,110.4 570.0,107.7 571.9,104.2 574.5,101.5 577.1,100.1 578.8,98.7 580.5,97.3 582.2,95.9 583.9,94.1 585.6,93.6 587.3,91.0 589.0,89.8 590.7,87.8 592.4,85.7 594.1,83.9 595.8,81.7 597.5,81.1 599.3,78.6 601.0,77.3 602.7,76.4 604.4,74.8 606.1,72.0 608.1,69.9 610.1,67.7 611.8,66.8 613.5,64.0 615.2,62.9 616.9,62.0 618.7,60.7 620.4,59.4 622.1,58.3 623.8,57.7 625.5,57.2 627.2,56.0 628.9,55.2 630.6,56.4 632.3,56.6 634.0,56.0 635.7,54.0 637.4,52.9 639.0,54.7 640.7,55.8 642.3,53.7 643.9,52.6 645.5,52.1 647.4,51.3 649.2,51.3 651.1,50.2 652.9,46.7 654.8,44.5 657.5,46.1 660.3,40.0 662.2,39.0 664.1,38.3 665.7,37.0 667.2,37.1 668.8,36.2 670.5,34.8 672.3,34.2 674.0,33.4" fill="none" stroke="#1a1aff" stroke-width="1.6" stroke-linejoin="round" stroke-linecap="round" />
</g>
<rect x="381.7" y="14.7" width="292.59999999999997" height="236.0" fill="none" stroke="#111" stroke-width="1.5"/>
<line x1="377.6" y1="242.2" x2="381.7" y2="242.2" stroke="#111" stroke-width="1.4"/>
<text x="373.9" y="245.9" class="t" font-size="11" text-anchor="end">10</text>
<line x1="379.6" y1="213.8" x2="381.7" y2="213.8" stroke="#111" stroke-width="1.4"/>
<line x1="377.6" y1="185.3" x2="381.7" y2="185.3" stroke="#111" stroke-width="1.4"/>
<text x="373.9" y="189.0" class="t" font-size="11" text-anchor="end">20</text>
<line x1="379.6" y1="156.8" x2="381.7" y2="156.8" stroke="#111" stroke-width="1.4"/>
<line x1="377.6" y1="128.4" x2="381.7" y2="128.4" stroke="#111" stroke-width="1.4"/>
<text x="373.9" y="132.1" class="t" font-size="11" text-anchor="end">30</text>
<line x1="379.6" y1="99.9" x2="381.7" y2="99.9" stroke="#111" stroke-width="1.4"/>
<line x1="377.6" y1="71.5" x2="381.7" y2="71.5" stroke="#111" stroke-width="1.4"/>
<text x="373.9" y="75.2" class="t" font-size="11" text-anchor="end">40</text>
<line x1="379.6" y1="43.0" x2="381.7" y2="43.0" stroke="#111" stroke-width="1.4"/>
<line x1="377.6" y1="14.6" x2="381.7" y2="14.6" stroke="#111" stroke-width="1.4"/>
<text x="373.9" y="18.3" class="t" font-size="11" text-anchor="end">50</text>
<line x1="381.7" y1="250.7" x2="381.7" y2="255.29999999999998" stroke="#111" stroke-width="1.4"/>
<text x="381.7" y="268.1" class="t" font-size="11" text-anchor="middle">2</text>
<line x1="454.9" y1="250.7" x2="454.9" y2="253.29999999999998" stroke="#111" stroke-width="1.4"/>
<line x1="528.0" y1="250.7" x2="528.0" y2="255.29999999999998" stroke="#111" stroke-width="1.4"/>
<text x="528.0" y="268.1" class="t" font-size="11" text-anchor="middle">3</text>
<line x1="601.1" y1="250.7" x2="601.1" y2="253.29999999999998" stroke="#111" stroke-width="1.4"/>
<line x1="674.3" y1="250.7" x2="674.3" y2="255.29999999999998" stroke="#111" stroke-width="1.4"/>
<text x="674.3" y="268.1" class="t" font-size="11" text-anchor="middle">4</text>
<text x="504.4" y="280.5" class="t" font-size="13.4" text-anchor="middle">Energy (eV)</text>
<g transform="translate(353.9 152.3) rotate(-90) scale(1.25 1)"><text x="0" y="0" class="t" font-size="12.5" text-anchor="middle">(&#945;h&#957;)<tspan font-size="8.2" dy="-7">2</tspan></text></g>
<text x="329.5" y="28.0" class="t" font-size="23.4">(b)</text>
<line x1="391" y1="30.5" x2="416.4" y2="30.5" stroke="#000000" stroke-width="1.4"/>
<text x="419.8" y="34.5" class="t" font-size="11" fill="#000000">CFO (2.43 eV)</text>
<line x1="391" y1="44.3" x2="416.4" y2="44.3" stroke="#ff1a1a" stroke-width="1.4"/>
<text x="419.8" y="48.3" class="t" font-size="11" fill="#ff1a1a">1 mol % Eu (2.49 eV)</text>
<line x1="391" y1="58.0" x2="416.4" y2="58.0" stroke="#1a1aff" stroke-width="1.4"/>
<text x="419.8" y="62.0" class="t" font-size="11" fill="#1a1aff">3 mol % Eu (2.27 eV)</text>
<line x1="391" y1="71.9" x2="416.4" y2="71.9" stroke="#ff1aff" stroke-width="1.4"/>
<text x="419.8" y="75.9" class="t" font-size="11" fill="#ff1aff">5 mol % Eu (2.35 eV)</text>
<line x1="391" y1="85.8" x2="416.4" y2="85.8" stroke="#1f861f" stroke-width="1.4"/>
<text x="419.8" y="89.8" class="t" font-size="11" fill="#1f861f">3 mol % Eu . NiO (2.39 eV)</text>
</svg>
</body></html>
